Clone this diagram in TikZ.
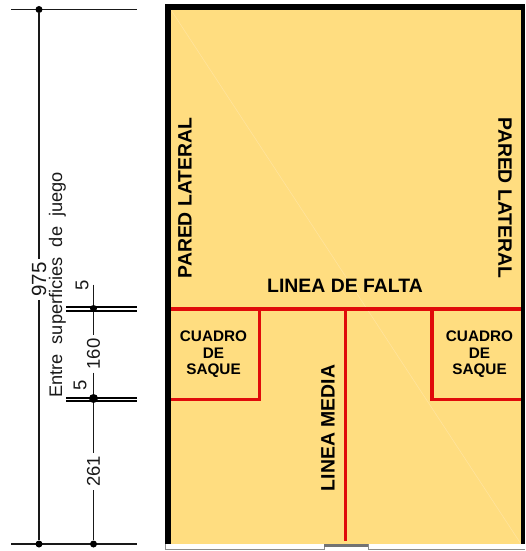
\documentclass[tikz,border=0pt]{standalone}
\usepackage{fontspec}
\setmainfont{Liberation Sans}
\definecolor{court}{HTML}{FFDD80}
\definecolor{linered}{HTML}{E00A0A}
\tikzset{
 dim/.style={line width=1.2pt,draw=black!90},
 dimheavy/.style={line width=1.7pt,draw=black},
 dimtext/.style={font=\fontsize{18.5}{18.5}\selectfont,rotate=90,inner sep=0pt,text=black!90},
 lab/.style={font=\bfseries\fontsize{19.4}{19.4}\selectfont,inner sep=0pt,text=black},
 small/.style={font=\bfseries\fontsize{15.3}{16.5}\selectfont,inner sep=0pt,align=center,text=black},
 redline/.style={draw=linered,line width=3.5pt},
 wall/.style={fill=black},
 dot/.style={circle,fill=black,inner sep=0pt,minimum size=7pt}
}
\begin{document}
\begin{tikzpicture}[x=1pt,y=-1pt]
\useasboundingbox (0,0) rectangle (525,551);
% court
\fill[court] (171,9) rectangle (521,544);
\draw[white!25!court,line width=.5pt] (171,10) -- (521,544);
\fill[wall] (165,4) rectangle (525,10);
\fill[wall] (165,4) rectangle (171,544);
\fill[wall] (521,4) rectangle (525,544);
\draw[black!45,line width=.8pt] (165,544) -- (165,549) -- (324,549) -- (324,544);
\draw[black!45,line width=.8pt] (368,544) -- (368,549) -- (525,549);
\fill[black!55] (324,544) rectangle (368,547);
% red lines
\draw[redline] (171,309) -- (521,309);
\draw[redline] (171,399.5) -- (259.5,399.5) -- (259.5,309);
\draw[redline] (521,399.5) -- (432,399.5) -- (432,309);
\draw[redline] (345.5,309) -- (345.5,541);
% labels
\node[lab,rotate=90] (pl) at (185,198) {PARED LATERAL};
\node[lab,rotate=-90] (pr) at (505,198) {PARED LATERAL};
\node[lab] (lf) at (345,286) {LINEA DE FALTA};
\node[lab,rotate=90] (lm) at (328,428) {LINEA MEDIA};
\node[small] (c1) at (213.5,354.5) {CUADRO\\DE\\SAQUE};
\node[small] (c2) at (479.5,354.5) {CUADRO\\DE\\SAQUE};
% dimensions
\coordinate (t1) at (11,9.5); \coordinate (t2) at (137,9.5);
\coordinate (b1) at (11,544); \coordinate (b2) at (137,544);
\draw[dim] (t1) -- (t2);
\draw[dim] (b1) -- (b2);
\node[dot] (d1) at (39,9.5) {};
\node[dot] (d2) at (39,544) {};
\node[dimtext,inner sep=3pt,font=\fontsize{20.5}{20.5}\selectfont] (n975) at (39,279.5) {975};
\draw[dim] (d1) -- (n975);
\draw[dim] (n975) -- (d2);
\node[dimtext] (ent) at (57.5,285) {\fontsize{18.2}{18.2}\selectfont Entre\ \ superficies\ \ de\ \ juego};
\draw[dimheavy] (66,306.7) -- (137,306.7);
\draw[dimheavy] (66,310.7) -- (137,310.7);
\draw[dimheavy] (66,397.7) -- (137,397.7);
\draw[dimheavy] (66,401.3) -- (137,401.3);
\coordinate (v0) at (93.5,284.5);
\node[dot] (d3) at (93.5,308.5) {};
\node[dot,minimum size=9pt] (d4) at (93.5,398.5) {};
\node[dot] (d5) at (93.5,544) {};
\node[dimtext,inner sep=3pt] (n160) at (93.5,354) {160};
\node[dimtext,inner sep=3pt] (n261) at (93.5,471.5) {261};
\draw[dim] (v0) -- (d3) -- (n160) -- (d4) -- (n261) -- (d5);
\node[dimtext] (n5a) at (82,285.5) {5};
\node[dimtext] (n5b) at (80,385) {5};
\end{tikzpicture}
\end{document}
